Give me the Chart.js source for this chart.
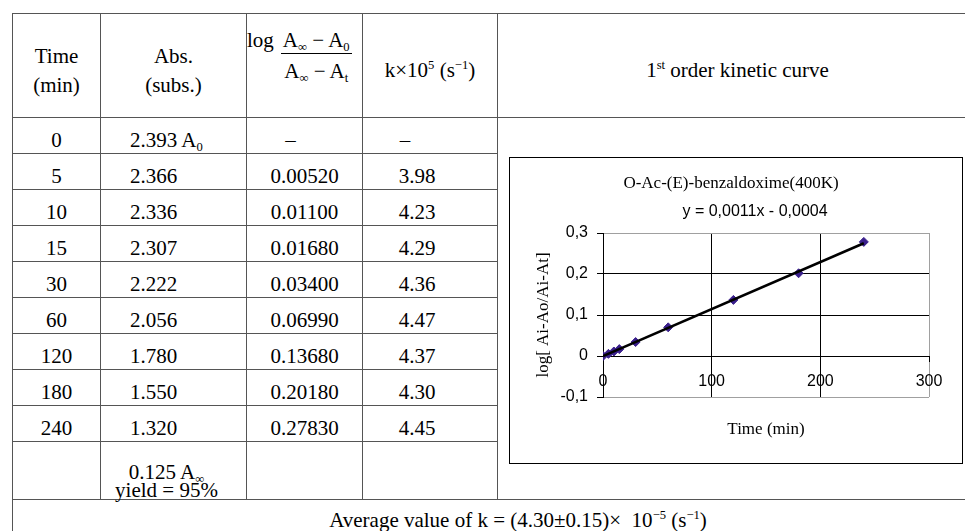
<!DOCTYPE html>
<html>
<head>
<meta charset="utf-8">
<script src="https://cdn.jsdelivr.net/npm/chart.js@4.4.0/dist/chart.umd.min.js"></script>
<style>
  html, body { margin: 0; padding: 0; }
  body {
    width: 965px; height: 531px; overflow: hidden; background: #fff; position: relative;
    font-family: "Liberation Serif", "Times New Roman", serif; color: #000;
  }
  sub, sup { font-size: 0.6em; position: relative; vertical-align: baseline; line-height: 0; }
  sub { top: 0.3em; }
  sup { top: -0.6em; }

  .kin {
    position: absolute; left: 12px; top: 13px;
    border-collapse: collapse; table-layout: fixed; width: 965px;
    font-size: 21px; line-height: 23px;
  }
  .kin td, .kin th { border: 1px solid #555; padding: 0; font-weight: normal; white-space: nowrap; }
  .kin thead tr { height: 104px; }
  .kin thead th { vertical-align: middle; text-align: center; padding-top: 10px; }
  .kin th.tm { line-height: 29px; }
  .kin th.lgh { vertical-align: top; text-align: left; padding: 15px 0 0 0; }
  .frac { display: inline-flex; flex-direction: column; align-items: center; margin-left: 7px; }
  .frac .nu { border-bottom: 1px solid #000; padding: 0 2px 1px; }
  .frac .de { padding-top: 6px; }

  .kin tr.dr { height: 36px; }
  .kin tr.dr td { vertical-align: bottom; padding-bottom: 1px; }
  .kin td.c1 { text-align: center; }
  .kin td.c2 { text-align: left; padding-left: 29px; }
  .kin td.c3 { text-align: center; }
  .kin td.c4 { text-align: center; padding-right: 26px; }
  .kin td.c3.dash { padding-right: 28px; }
  .kin td.c4.dash { padding-right: 50px; }
  .kin tr.lr { height: 58px; }
  .kin td.c2l { vertical-align: bottom; text-align: center; line-height: 18px; padding-right: 14px; }
  .kin tr.ar { height: 40px; }
  .kin tr.ar td { vertical-align: top; text-align: center; padding: 9px 0 0 46px; }

  #box {
    position: absolute; left: 509px; top: 157px; width: 452px; height: 305px;
    border: 1px solid #000; background: #fff;
  }
  #kinChart { display: block; }
</style>
</head>
<body>

<table class="kin">
  <colgroup>
    <col style="width:88px"><col style="width:146px"><col style="width:116px"><col style="width:135px"><col style="width:480px">
  </colgroup>
  <thead>
    <tr>
      <th class="tm">Time<br>(min)</th>
      <th class="tm">Abs.<br>(subs.)</th>
      <th class="lgh"><span>log</span><span class="frac"><span class="nu">A<sub>∞</sub> − A<sub>0</sub></span><span class="de">A<sub>∞</sub> − A<sub>t</sub></span></span></th>
      <th>k×10<sup>5</sup> (s<sup>−1</sup>)</th>
      <th>1<sup>st</sup> order kinetic curve</th>
    </tr>
  </thead>
  <tbody id="rows"></tbody>
</table>

<div id="box"><canvas id="kinChart" width="452" height="305"></canvas></div>

<script>
// table + chart data
const timeMin = [0, 5, 10, 15, 30, 60, 120, 180, 240];
const absSubs = [2.393, 2.366, 2.336, 2.307, 2.222, 2.056, 1.780, 1.550, 1.320];
const logRatio = [0, 0.0052, 0.0110, 0.0168, 0.0340, 0.0699, 0.1368, 0.2018, 0.2783];
const kValues = [null, 3.98, 4.23, 4.29, 4.36, 4.47, 4.37, 4.30, 4.45];
const absInf = 0.125;
const yieldPct = 95;
const kMean = 4.30;
const kErr = 0.15;

// trendline as drawn in the picture
const trendX = [0, 240];
const trendY = [-0.0004, 0.2750];
const equationText = 'y = 0,0011x - 0,0004';
const chartTitle = 'O-Ac-(E)-benzaldoxime(400K)';

const yTicks = [-0.1, 0, 0.1, 0.2, 0.3];
const xTicks = [0, 100, 200, 300];

const serif = '"Liberation Serif", "Times New Roman", serif';
const sans = '"Liberation Sans", Arial, sans-serif';
const markerColor = '#3a1f8c';
const edgeGray = '#a0a0a0';

// build the rows
const tbody = document.getElementById('rows');
timeMin.forEach((t, i) => {
    const tr = document.createElement('tr');
    tr.className = 'dr';
    let html = `<td class="c1">${t}</td>`;
    html += `<td class="c2">${absSubs[i].toFixed(3)}${i === 0 ? ' A<sub>0</sub>' : ''}</td>`;
    if (i === 0) {
        html += '<td class="c3 dash">–</td><td class="c4 dash">–</td><td rowspan="10"></td>';
    } else {
        html += `<td class="c3">${logRatio[i].toFixed(5)}</td><td class="c4">${kValues[i].toFixed(2)}</td>`;
    }
    tr.innerHTML = html;
    tbody.appendChild(tr);
});

const last = document.createElement('tr');
last.className = 'lr';
last.innerHTML = `<td></td><td class="c2l">${absInf.toFixed(3)} A<sub>∞</sub><br>yield = ${yieldPct}%</td><td></td><td></td>`;
tbody.appendChild(last);

const avg = document.createElement('tr');
avg.className = 'ar';
avg.innerHTML = `<td colspan="5">Average value of k = (${kMean.toFixed(2)}±${kErr.toFixed(2)})×&nbsp; 10<sup>−5</sup> (s<sup>−1</sup>)</td>`;
tbody.appendChild(avg);

// trendline equation, placed like the excel label
const eqLabel = {
    id: 'eqLabel',
    afterDraw(chart) {
        const { ctx, chartArea } = chart;
        ctx.save();
        ctx.font = '16px ' + sans;
        ctx.fillStyle = '#000';
        ctx.textAlign = 'center';
        ctx.textBaseline = 'middle';
        ctx.fillText(equationText, (chartArea.left + chartArea.right) / 2 - 11, chartArea.top - 21);
        ctx.restore();
    }
};

const fmtComma = v => {
    const r = Math.round(v * 10) / 10;
    return r === 0 ? '0' : String(r).replace('.', ',');
};

new Chart(document.getElementById('kinChart').getContext('2d'), {
    type: 'scatter',
    data: {
        datasets: [
            {
                label: 'trend',
                data: trendX.map((x, i) => ({ x: x, y: trendY[i] })),
                showLine: true,
                borderColor: '#000',
                borderWidth: 2.5,
                pointRadius: 0,
                order: 0
            },
            {
                label: 'log[ Ai-Ao/Ai-At]',
                data: timeMin.map((t, i) => ({ x: t, y: logRatio[i] })),
                pointStyle: 'rectRot',
                pointRadius: 4.5,
                backgroundColor: markerColor,
                borderColor: markerColor,
                borderWidth: 1,
                order: 1
            }
        ]
    },
    options: {
        responsive: false,
        animation: false,
        layout: { padding: { left: 23, right: 33, top: 0, bottom: 0 } },
        plugins: {
            legend: { display: false },
            tooltip: { enabled: false },
            title: {
                display: true,
                text: chartTitle,
                color: '#000',
                font: { family: serif, size: 17, weight: 'normal' },
                padding: { top: 15, bottom: 39.6 }
            }
        },
        scales: {
            x: {
                type: 'linear',
                position: { y: 0 },
                min: xTicks[0],
                max: xTicks[xTicks.length - 1],
                afterBuildTicks: s => { s.ticks = xTicks.map(v => ({ value: v })); },
                ticks: { color: '#000', font: { family: sans, size: 16 }, padding: 11, maxRotation: 0 },
                grid: {
                    color: c => (c.index === xTicks.length - 1 ? edgeGray : '#000'),
                    tickColor: '#000',
                    tickLength: 5
                },
                border: { color: '#000', width: 1 }
            },
            x2: {
                type: 'linear',
                position: 'bottom',
                min: xTicks[0],
                max: xTicks[xTicks.length - 1],
                ticks: { display: false },
                grid: { display: false, drawTicks: false },
                border: { display: false },
                title: {
                    display: true,
                    text: 'Time (min)',
                    color: '#000',
                    font: { family: serif, size: 17 },
                    padding: { top: 22.8, bottom: 22.8 }
                }
            },
            y: {
                type: 'linear',
                min: yTicks[0],
                max: yTicks[yTicks.length - 1],
                afterBuildTicks: s => { s.ticks = yTicks.map(v => ({ value: v })); },
                afterFit: s => { s.width = 70; },
                ticks: { color: '#000', font: { family: sans, size: 16 }, padding: 9, callback: fmtComma },
                grid: {
                    color: c => (c.index === 0 || c.index === yTicks.length - 1 ? edgeGray : '#000'),
                    tickColor: '#000',
                    tickLength: 6
                },
                border: { color: '#000', width: 1 },
                title: {
                    display: true,
                    text: 'log[ Ai-Ao/Ai-At]',
                    color: '#000',
                    font: { family: serif, size: 17 },
                    padding: { top: 0, bottom: 0 }
                }
            }
        }
    },
    plugins: [eqLabel]
});
</script>
</body>
</html>
